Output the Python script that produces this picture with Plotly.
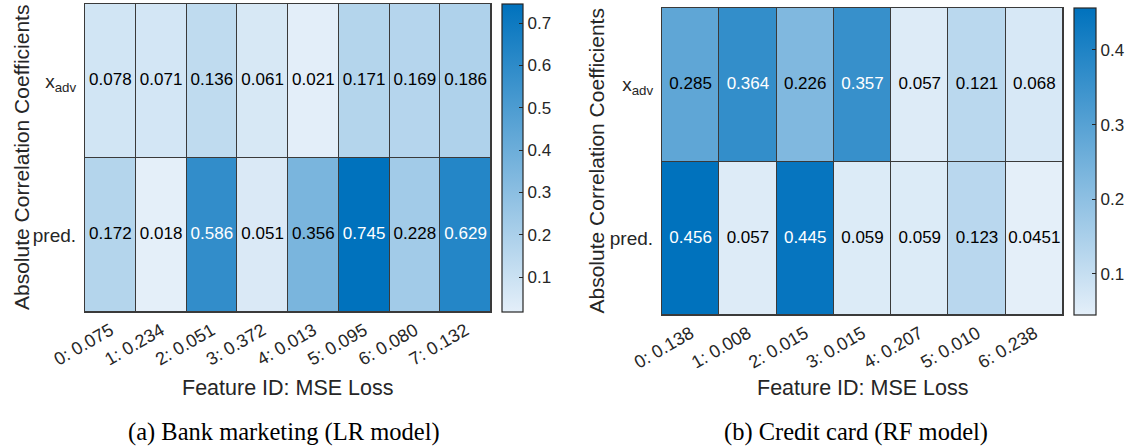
import plotly.graph_objects as go

# ---- data ----
rows = ["x<sub>adv</sub>", "pred."]

bank_features = ["0: 0.075", "1: 0.234", "2: 0.051", "3: 0.372",
                 "4: 0.013", "5: 0.095", "6: 0.080", "7: 0.132"]
bank_xadv = [0.078, 0.071, 0.136, 0.061, 0.021, 0.171, 0.169, 0.186]
bank_pred = [0.172, 0.018, 0.586, 0.051, 0.356, 0.745, 0.228, 0.629]
bank_xadv_txt = ["0.078", "0.071", "0.136", "0.061", "0.021", "0.171", "0.169", "0.186"]
bank_pred_txt = ["0.172", "0.018", "0.586", "0.051", "0.356", "0.745", "0.228", "0.629"]

credit_features = ["0: 0.138", "1: 0.008", "2: 0.015", "3: 0.015",
                   "4: 0.207", "5: 0.010", "6: 0.238"]
credit_xadv = [0.285, 0.364, 0.226, 0.357, 0.057, 0.121, 0.068]
credit_pred = [0.456, 0.057, 0.445, 0.059, 0.059, 0.123, 0.0451]
credit_xadv_txt = ["0.285", "0.364", "0.226", "0.357", "0.057", "0.121", "0.068"]
credit_pred_txt = ["0.456", "0.057", "0.445", "0.059", "0.059", "0.123", "0.0451"]

bank_ticks = [0.1, 0.2, 0.3, 0.4, 0.5, 0.6, 0.7]
credit_ticks = [0.1, 0.2, 0.3, 0.4]

y_title = "Absolute Correlation Coefficients"
x_title = "Feature ID: MSE Loss"
captions = ["(a) Bank marketing (LR model)", "(b) Credit card (RF model)"]

# ---- style ----
W, H = 1129, 447
SANS = "Liberation Sans, Arial, sans-serif"
SERIF = "Liberation Serif, Times New Roman, serif"
DARK = "#262626"
GRID = "#3a3a3a"
cscale = [[0, "rgb(228,239,249)"], [1, "rgb(0,114,189)"]]


def px_x(v):
    return v / W


def px_y(v):
    return 1 - v / H


fig = go.Figure()

panels = [
    dict(feat=bank_features, z=[bank_xadv, bank_pred], t=[bank_xadv_txt, bank_pred_txt],
         ticks=bank_ticks, xa="x", ya="y", box=(85, 491, 4, 312), cbx=502, cbw=21,
         ytx=21, cap=284),
    dict(feat=credit_features, z=[credit_xadv, credit_pred], t=[credit_xadv_txt, credit_pred_txt],
         ticks=credit_ticks, xa="x2", ya="y2", box=(662, 1063, 8, 315), cbx=1074, cbw=22,
         ytx=596, cap=856),
]

for i, p in enumerate(panels):
    zmin = min(min(r) for r in p["z"])
    zmax = max(max(r) for r in p["z"])
    x0, x1, y0, y1 = p["box"]
    fig.add_trace(go.Heatmap(
        x=p["feat"], y=rows, z=p["z"], xaxis=p["xa"], yaxis=p["ya"],
        zmin=zmin, zmax=zmax, colorscale=cscale, xgap=1, ygap=1,
        hoverinfo="skip",
        colorbar=dict(
            x=px_x(p["cbx"]), xanchor="left", xref="paper",
            y=px_y((y0 + y1) / 2), yanchor="middle", yref="paper",
            len=(y1 - y0), lenmode="pixels", xpad=0, ypad=0,
            thickness=p["cbw"], thicknessmode="pixels",
            outlinecolor=DARK, outlinewidth=1.2,
            tickvals=p["ticks"], ticktext=[f"{v:.1f}" for v in p["ticks"]],
            ticks="inside", ticklen=4, tickcolor=DARK,
            tickfont=dict(family=SANS, size=17, color=DARK),
        ),
    ))
    # cell labels
    xs, ys, ts, cs = [], [], [], []
    for r, row in enumerate(rows):
        for c, f in enumerate(p["feat"]):
            v = p["z"][r][c]
            xs.append(f)
            ys.append(row)
            ts.append(p["t"][r][c])
            cs.append("white" if (v - zmin) / (zmax - zmin) > 0.7 else "black")
    fig.add_trace(go.Scatter(
        x=xs, y=ys, text=ts, mode="text", xaxis=p["xa"], yaxis=p["ya"],
        textfont=dict(family=SANS, size=17, color=cs), hoverinfo="skip",
        showlegend=False,
    ))

    sfx = "" if i == 0 else "2"
    fig.layout["xaxis" + sfx] = dict(
        domain=[px_x(x0), px_x(x1)], anchor="y" + sfx, automargin=False,
        type="category", categoryorder="array", categoryarray=p["feat"],
        tickangle=-30, showgrid=False, zeroline=False, ticks="",
        showline=True, mirror=True, linecolor=GRID, linewidth=1.2,
        tickfont=dict(family=SANS, size=18, color=DARK),
    )
    fig.layout["yaxis" + sfx] = dict(
        domain=[px_y(y1), px_y(y0)], anchor="x" + sfx, automargin=False,
        type="category", categoryorder="array", categoryarray=rows,
        autorange="reversed", showgrid=False, zeroline=False, ticks="",
        showline=True, mirror=True, linecolor=GRID, linewidth=1.2,
        tickfont=dict(family=SANS, size=19, color=DARK), ticklabelstandoff=4,
    )
    # axis titles and caption
    fig.add_annotation(text=y_title, textangle=-90, xref="paper", yref="paper",
                       x=px_x(p["ytx"]), y=px_y((y0 + y1) / 2),
                       xanchor="center", yanchor="middle",
                       showarrow=False, font=dict(family=SANS, size=21, color=DARK))
    fig.add_annotation(text=x_title, xref="paper", yref="paper",
                       x=px_x((x0 + x1) / 2), y=px_y(388),
                       xanchor="center", yanchor="middle",
                       showarrow=False, font=dict(family=SANS, size=21.5, color=DARK))
    fig.add_annotation(text=captions[i], xref="paper", yref="paper",
                       x=px_x(p["cap"]), y=px_y(432),
                       xanchor="center", yanchor="middle",
                       showarrow=False, font=dict(family=SERIF, size=24.5, color="black"))

fig.update_layout(
    width=W, height=H, margin=dict(l=0, r=0, t=0, b=0, autoexpand=False),
    paper_bgcolor="white", plot_bgcolor=GRID, showlegend=False,
)

fig.write_html(
    "out.html",
    config={"displayModeBar": False},
    post_script="document.body.style.margin='0';document.body.style.overflow='hidden';",
)
